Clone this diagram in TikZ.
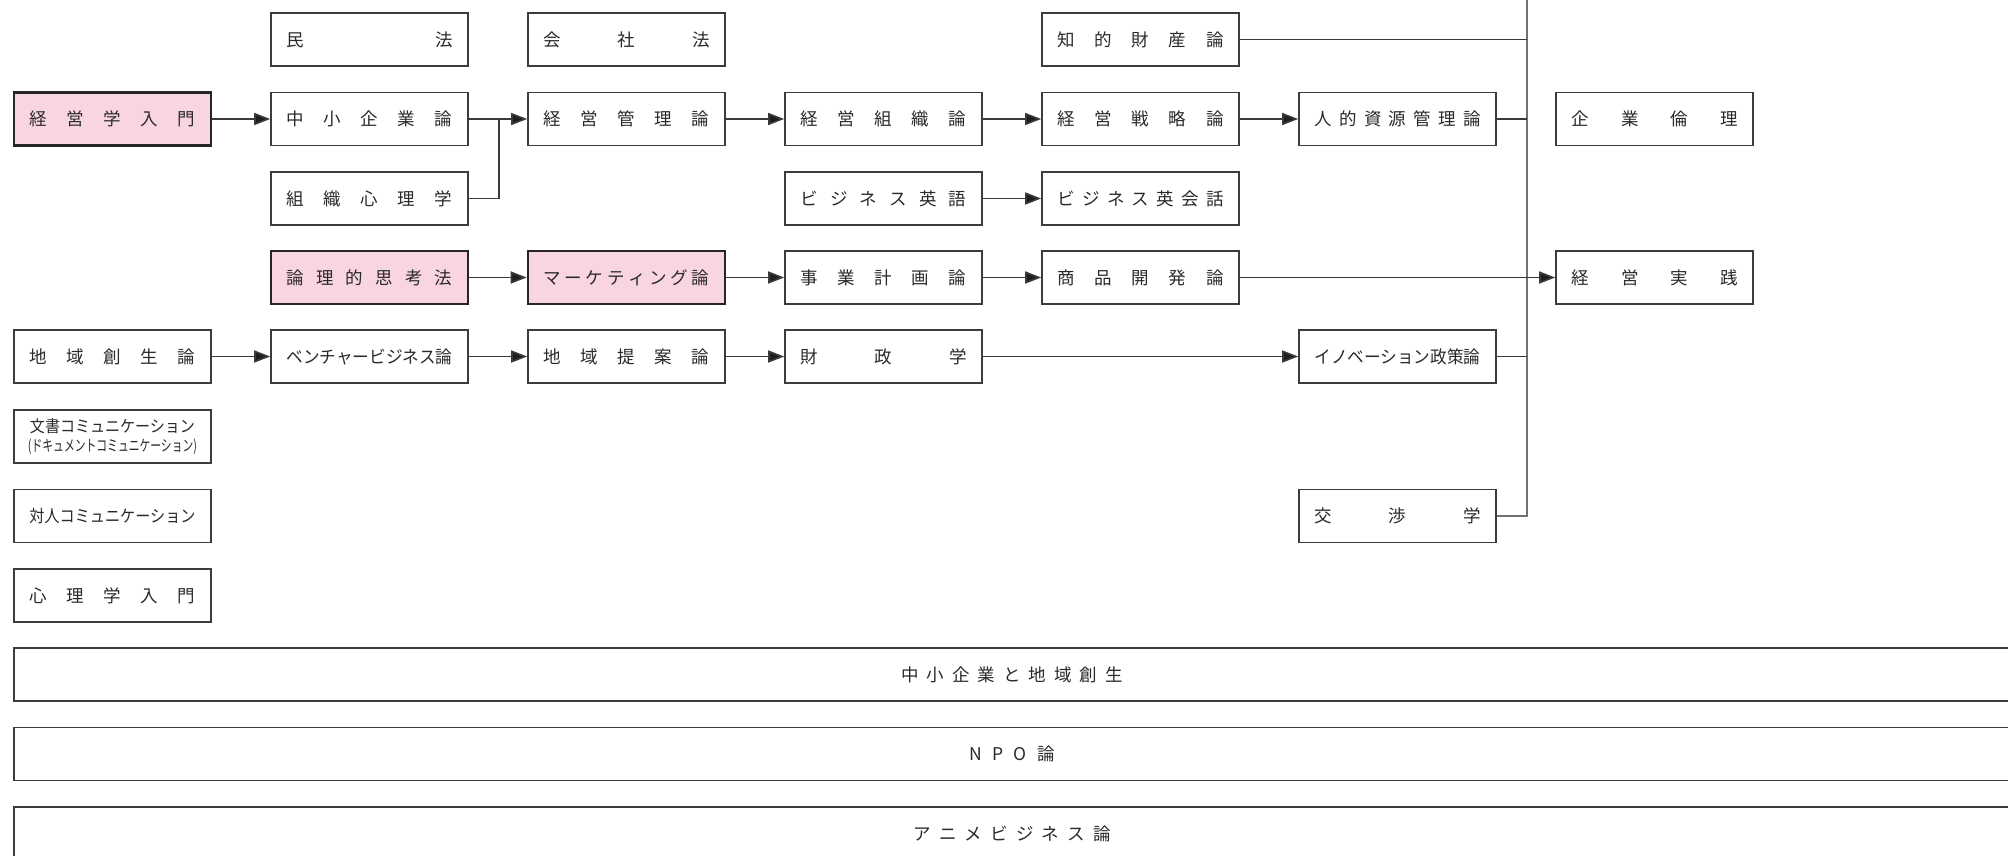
\documentclass[tikz,border=0pt]{standalone}
\usepackage{fontspec}
\setmainfont{Noto Sans CJK JP}
\usepackage{graphicx}
\usetikzlibrary{arrows.meta}
\definecolor{pinkfill}{HTML}{F9D4E3}
\definecolor{boxline}{HTML}{3C3C3C}
\definecolor{conn}{HTML}{3A3A3A}
\definecolor{tipc}{HTML}{1E1E1E}
\definecolor{vline}{HTML}{707070}
\definecolor{txt}{HTML}{2A2A2A}
\newcommand\jt[1]{\makebox[166pt]{#1}}
\newcommand\jr[1]{\resizebox{166pt}{\height}{#1}}
\begin{document}
\begin{tikzpicture}[x=1pt,y=-1pt,
  course/.style={draw=boxline, line width=1.6pt, fill=white, minimum width=197pt,
    minimum height=53pt, inner sep=0pt, text=txt, font=\fontsize{17.5}{20}\selectfont},
  core/.style={course, fill=pinkfill, draw=black!85, line width=2.6pt},
  wide/.style={course, minimum width=1996pt},
  arr/.style={draw=conn, line width=1.6pt, -{Triangle[length=16pt,width=12pt,fill=tipc]}},
  link/.style={draw=conn, line width=1.6pt},
  vlink/.style={draw=vline, line width=1.8pt},
]
\useasboundingbox (0,0) rectangle (2008,855);
\fill[white] (0,0) rectangle (2008,855);
\clip (0,0) rectangle (2008,855);

% row 0
\node[course] (minpo)   at (369.5,39.5) {\jt{民\hfill 法}};
\node[course] (kaisha)  at (626.5,39.5) {\jt{会\hfill 社\hfill 法}};
\node[course] (chiteki) at (1140.5,39.5) {\jt{知\hfill 的\hfill 財\hfill 産\hfill 論}};
% row 1
\node[core]   (nyumon)  at (112.5,119) {\jt{経\hfill 営\hfill 学\hfill 入\hfill 門}};
\node[course] (chusho)  at (369.5,119) {\jt{中\hfill 小\hfill 企\hfill 業\hfill 論}};
\node[course] (kanri)   at (626.5,119) {\jt{経\hfill 営\hfill 管\hfill 理\hfill 論}};
\node[course] (soshiki) at (883.5,119) {\jt{経\hfill 営\hfill 組\hfill 織\hfill 論}};
\node[course] (senryaku) at (1140.5,119) {\jt{経\hfill 営\hfill 戦\hfill 略\hfill 論}};
\node[course] (jinteki) at (1397.5,119) {\jt{人\hfill 的\hfill 資\hfill 源\hfill 管\hfill 理\hfill 論}};
\node[course] (rinri)   at (1654.5,119) {\jt{企\hfill 業\hfill 倫\hfill 理}};
% row 2
\node[course] (shinri)  at (369.5,198.5) {\jt{組\hfill 織\hfill 心\hfill 理\hfill 学}};
\node[course] (eigo)    at (883.5,198.5) {\jt{ビ\hfill ジ\hfill ネ\hfill ス\hfill 英\hfill 語}};
\node[course] (kaiwa)   at (1140.5,198.5) {\jt{ビ\hfill ジ\hfill ネ\hfill ス\hfill 英\hfill 会\hfill 話}};
% row 3
\node[core]   (ronri)   at (369.5,277.5) {\jt{論\hfill 理\hfill 的\hfill 思\hfill 考\hfill 法}};
\node[core]   (market)  at (626.5,277.5) {\jt{マ\hfill ー\hfill ケ\hfill テ\hfill ィ\hfill ン\hfill グ\hfill 論}};
\node[course] (jigyo)   at (883.5,277.5) {\jt{事\hfill 業\hfill 計\hfill 画\hfill 論}};
\node[course] (shohin)  at (1140.5,277.5) {\jt{商\hfill 品\hfill 開\hfill 発\hfill 論}};
\node[course] (jissen)  at (1654.5,277.5) {\jt{経\hfill 営\hfill 実\hfill 践}};
% row 4
\node[course] (sosei)   at (112.5,356.5) {\jt{地\hfill 域\hfill 創\hfill 生\hfill 論}};
\node[course] (venture) at (369.5,356.5) {\jr{ベンチャービジネス論}};
\node[course] (teian)   at (626.5,356.5) {\jt{地\hfill 域\hfill 提\hfill 案\hfill 論}};
\node[course] (zaisei)  at (883.5,356.5) {\jt{財\hfill 政\hfill 学}};
\node[course] (innov)   at (1397.5,356.5) {\jr{イノベーション政策論}};
% row 5
\node[course, align=center, font=\fontsize{16.5}{19.5}\selectfont] (bunsho) at (112.5,436.5)
  {\resizebox{165pt}{\height}{文書コミュニケーション}\\
   {\fontsize{15.5}{17}\selectfont\resizebox{169pt}{\height}{(ドキュメントコミュニケーション)}}};
% row 6
\node[course, font=\fontsize{17}{20}\selectfont] (taijin) at (112.5,516) {\jr{対人コミュニケーション}};
\node[course] (kosho)   at (1397.5,516) {\jt{交\hfill 渉\hfill 学}};
% row 7
\node[course] (shinrinyumon) at (112.5,595.5) {\jt{心\hfill 理\hfill 学\hfill 入\hfill 門}};
% wide boxes
\node[wide] (wide1) at (1012,674.5) {\makebox[222pt]{中\hfill 小\hfill 企\hfill 業\hfill と\hfill 地\hfill 域\hfill 創\hfill 生}};
\node[wide] (wide2) at (1012,754) {\makebox[86pt]{N\hfill P\hfill O\hfill 論}};
\node[wide] (wide3) at (1012,833.5) {\makebox[197pt]{ア\hfill ニ\hfill メ\hfill ビ\hfill ジ\hfill ネ\hfill ス\hfill 論}};

% coordinates
\coordinate (vtop) at (1527,0);
\coordinate (jx) at (499,119);

% vertical collector
\draw[vlink] (kosho.east) -| (vtop);
\draw[link] (chiteki.east) -- (chiteki.east -| vtop);
\draw[link] (jinteki.east) -- (jinteki.east -| vtop);
\draw[link] (innov.east) -- (innov.east -| vtop);

% arrows
\draw[arr] (nyumon.east) -- (chusho.west);
\draw[arr] (chusho.east) -- (kanri.west);
\draw[link] (shinri.east) -| (jx);
\draw[arr] (kanri.east) -- (soshiki.west);
\draw[arr] (soshiki.east) -- (senryaku.west);
\draw[arr] (senryaku.east) -- (jinteki.west);
\draw[arr] (eigo.east) -- (kaiwa.west);
\draw[arr] (ronri.east) -- (market.west);
\draw[arr] (market.east) -- (jigyo.west);
\draw[arr] (jigyo.east) -- (shohin.west);
\draw[arr] (shohin.east) -- (jissen.west);
\draw[arr] (sosei.east) -- (venture.west);
\draw[arr] (venture.east) -- (teian.west);
\draw[arr] (teian.east) -- (zaisei.west);
\draw[arr] (zaisei.east) -- (innov.west);
\end{tikzpicture}
\end{document}
